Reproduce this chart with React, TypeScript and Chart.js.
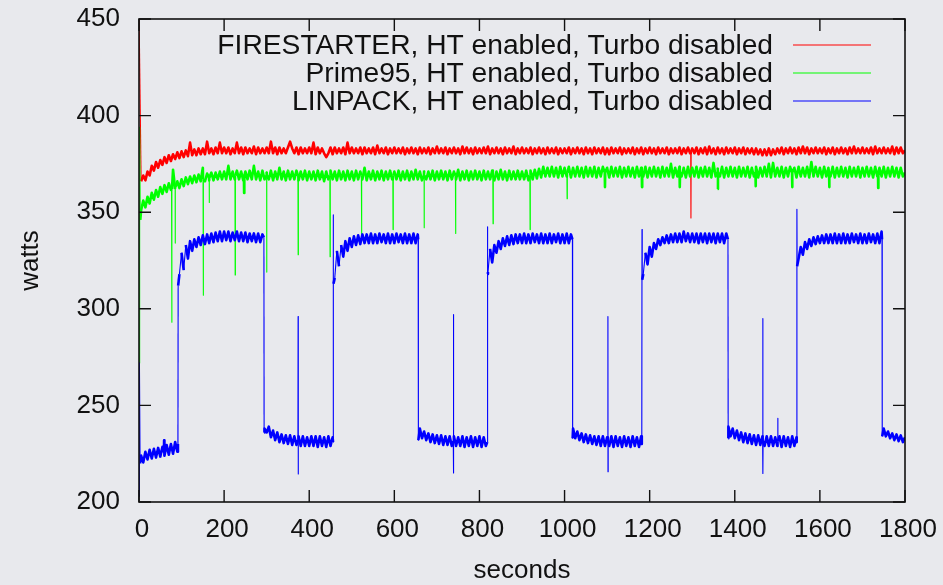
import React, { useEffect, useRef } from "react";
import { Chart, registerables } from "chart.js";

Chart.register(...registerables);

// ---- data ---------------------------------------------------------------
// Power samples every 5 seconds, 0 .. 1800 s (361 samples per series)
const SECONDS: number[] = Array.from({ length: 361 }, (_, i) => i * 5);

const X_TICKS = [0, 200, 400, 600, 800, 1000, 1200, 1400, 1600, 1800];
const Y_TICKS = [200, 250, 300, 350, 400, 450];

const SERIES_LABELS = [
  "FIRESTARTER, HT enabled, Turbo disabled",
  "Prime95, HT enabled, Turbo disabled",
  "LINPACK, HT enabled, Turbo disabled",
];

const FIRESTARTER_WATTS = [
  455, 366, 369, 366.5, 371, 369, 374, 371.5, 376, 373, 377, 374.5, 378.5, 375.5, 379.5, 376.5, 380, 377.5, 381, 378,
  381.5, 378.5, 382, 379, 386, 379.5, 382.5, 379.5, 383, 380, 383, 380, 386.5, 380.5, 383, 380, 383.5, 380.5, 386, 380.5,
  383.5, 380.5, 383.5, 380, 383, 380.5, 386, 380.5, 383.5, 380, 383.5, 380.5, 383, 380.5, 384, 380, 383.5, 380.5, 383, 380.5,
  383.5, 380.5, 386.5, 380.5, 383.5, 380, 383.5, 380.5, 383, 380.5, 383.5, 386.5, 383, 380.5, 383.5, 380, 383.5, 380.5, 383, 380.5,
  383.5, 380.5, 386, 380, 383.5, 380.5, 383, 380.5, 378.5, 380.5, 383.5, 380, 383.5, 380.5, 383, 380.5, 383.5, 380, 386, 380.5,
  383.5, 380.5, 383, 380.5, 383.5, 380, 383.5, 380.5, 383, 380.5, 383.5, 380, 384.5, 380.5, 383, 380.5, 383.5, 380, 383, 380.5,
  383.5, 380.5, 383, 380.5, 383.5, 380, 383, 380.5, 383.5, 380.5, 383, 380, 383.5, 380.5, 383, 380.5, 383.5, 380, 383, 380.5,
  384, 380.5, 383, 380.5, 383.5, 380, 383, 380.5, 383.5, 380.5, 383, 380, 384, 380.5, 383.5, 380.5, 383, 380, 383.5, 380.5,
  383, 380.5, 383.5, 380.5, 384, 380, 383, 380.5, 383.5, 380.5, 383, 380, 383.5, 380.5, 383, 380.5, 384, 380, 383, 380.5,
  383.5, 380.5, 383, 380.5, 383.5, 380, 383, 380.5, 383.5, 380.5, 383, 380, 383.5, 380.5, 383, 380.5, 383.5, 380, 383, 380.5,
  383, 380.5, 383.5, 380, 383, 380.5, 383.5, 380.5, 383, 380, 383.5, 380.5, 383, 380, 383.5, 380.5, 383, 380.5, 383.5, 380,
  383, 380, 383.5, 380.5, 383, 380.5, 383.5, 380, 383, 380.5, 383, 380.5, 383.5, 380, 383, 380.5, 383.5, 380, 383, 380.5,
  383.5, 380.5, 383, 380, 383.5, 380.5, 383, 380.5, 383.5, 380, 383, 380.5, 383, 380.5, 383.5, 380, 383, 380.5, 383.5, 380.5,
  383, 380.5, 383.5, 380, 383, 380.5, 383.5, 380, 384, 380.5, 383, 380, 383.5, 380.5, 383, 380, 383.5, 380.5, 383, 380.5,
  383.5, 380, 383, 380.5, 383.5, 380, 383, 380.5, 383, 380, 383, 380, 382.5, 379.5, 382.5, 379.5, 383, 379.5, 382.5, 380,
  383, 380.5, 383.5, 380, 383, 380.5, 383.5, 380.5, 383, 380, 383.5, 380.5, 384, 380.5, 383.5, 380, 383, 380.5, 383.5, 380.5,
  383, 380.5, 383.5, 380, 383, 380.5, 383.5, 380, 383, 380.5, 383.5, 380.5, 383, 380, 383.5, 380.5, 384, 380.5, 383, 380.5,
  383.5, 380.5, 383, 380.5, 383.5, 380, 384, 380.5, 383, 380.5, 383.5, 380.5, 383, 380.5, 384, 380, 383.5, 380.5, 383.5, 380.5,
  382,
];

const PRIME95_WATTS = [
  272, 351, 356, 352.5, 358, 354.5, 360, 356.5, 361.5, 358, 363, 359.5, 364, 360.5, 365, 361.5, 372, 362, 366, 362.5,
  367, 363.5, 368, 364.5, 368.5, 365, 369, 365.5, 369.5, 366, 373, 366, 370, 366.5, 370.5, 366.5, 370.5, 367, 371, 367,
  371, 367, 374, 367, 371, 367, 371.5, 367, 371, 366.5, 371, 367, 371.5, 367, 374, 367, 371, 366.5, 371.5, 367,
  371, 367, 371.5, 366.5, 371, 367, 373, 367, 371, 366.5, 371.5, 367, 371, 367, 371.5, 366.5, 371, 367, 371.5, 366.5,
  371, 367, 371, 366.5, 371.5, 367, 371, 366, 371, 367, 371.5, 367, 371, 366.5, 371.5, 367, 371, 366.5, 371.5, 367,
  371, 366.5, 371.5, 367, 371, 367, 373, 366.5, 371, 367, 371.5, 366.5, 371, 367, 371.5, 366.5, 371, 367, 371.5, 367,
  371, 367, 371.5, 366.5, 371, 367, 371.5, 366.5, 371, 367, 372, 367, 371, 366.5, 371.5, 367, 371, 367, 371.5, 366.5,
  371, 367, 371.5, 367, 371, 366.5, 371.5, 367, 371, 367, 372, 366.5, 371, 367, 371.5, 366.5, 371, 367, 371.5, 367,
  371, 366.5, 371.5, 367, 371, 367, 371.5, 366.5, 371, 367, 372, 367, 371, 366.5, 371.5, 367, 371, 367, 371.5, 367,
  371, 367, 371.5, 366.5, 371.5, 367, 372, 367.5, 372.5, 368, 373.5, 368.5, 373, 368.5, 373.5, 368.5, 373, 368, 373.5, 368.5,
  373, 368.5, 373.5, 368, 373, 368.5, 373.5, 368.5, 373, 368, 373.5, 368.5, 373, 368.5, 373.5, 368, 373, 368.5, 373.5, 368.5,
  373, 368, 373.5, 368.5, 373, 368.5, 373.5, 368, 373, 368.5, 373.5, 368.5, 373, 368, 373.5, 368.5, 373, 368.5, 373.5, 368,
  373, 368.5, 373.5, 368.5, 373, 368, 373.5, 368.5, 373, 368.5, 375, 368, 373, 368.5, 373.5, 368.5, 373, 368, 373.5, 368.5,
  373, 368.5, 373.5, 368, 373, 368.5, 373.5, 368.5, 373, 368, 375.5, 368.5, 373, 368.5, 373.5, 368, 373, 368.5, 373.5, 368.5,
  373, 368, 373.5, 368.5, 373, 368.5, 373.5, 368, 373, 368.5, 373.5, 368, 373, 368.5, 373.5, 368.5, 375, 368, 375.5, 368.5,
  373, 368.5, 373.5, 368, 373, 368.5, 373.5, 368.5, 373, 368, 373.5, 368.5, 373, 368.5, 373.5, 368, 376, 368.5, 373.5, 368.5,
  373, 368, 373.5, 368.5, 373, 368.5, 373.5, 368, 373, 368.5, 373.5, 368.5, 373, 368, 373.5, 368.5, 373, 368.5, 373.5, 368,
  373, 368.5, 373.5, 368.5, 373, 368, 373.5, 368.5, 373, 368.5, 373.5, 368, 373, 368.5, 373.5, 368.5, 373, 368, 373, 368.5,
  370.5,
];

const LINPACK_WATTS = [
  203, 224, 220.5, 226, 222, 227, 222.5, 227.5, 223, 228, 223.5, 228.5, 224, 229.5, 224.5, 230, 225, 231, 226, 318,
  329, 320, 333, 326, 335, 330, 336, 332, 337, 333, 338, 333.5, 338.5, 334, 339, 334.5, 339.5, 335, 340, 335,
  340, 335.5, 340, 335, 339.5, 335.5, 340, 335, 339.5, 335, 339.5, 334.5, 339, 335, 339, 334.5, 339, 334.5, 338.5, 238,
  236, 239, 233.5, 237, 232, 236, 231, 235, 230.5, 234.5, 230, 234.5, 229.5, 234, 229.5, 234, 229, 234, 229, 233.5,
  229, 234, 229, 234, 228.5, 234, 229, 233.5, 228.5, 234, 229, 233.5, 316, 330, 322, 333, 327, 335, 330, 336.5,
  332, 337.5, 333, 338, 333.5, 338.5, 334, 338.5, 334, 339, 334, 338.5, 334, 339, 334.5, 338.5, 334, 339, 334, 338.5,
  334, 339, 334.5, 338.5, 334, 339, 334, 338.5, 334, 339, 334, 338.5, 238, 233, 236.5, 232, 235.5, 231, 235, 230.5,
  234.5, 230, 234.5, 229.5, 234, 229.5, 234, 229, 234, 229, 233.5, 229, 234, 228.5, 233.5, 229, 234, 228.5, 233.5, 229,
  234, 228.5, 233.5, 229, 319, 331, 324, 333, 329, 335, 331, 336.5, 332.5, 337.5, 333, 338, 333.5, 338.5, 334, 338.5,
  334, 339, 334, 338.5, 334, 339, 334.5, 338.5, 334, 339, 334, 338.5, 334, 339, 334, 338.5, 334.5, 339, 334, 338.5,
  334, 339, 334, 338.5, 238, 233, 236.5, 232, 235.5, 231, 235, 230.5, 234.5, 230, 234, 229.5, 234, 229, 234, 229,
  233.5, 229, 234, 228.5, 234, 229, 233.5, 228.5, 234, 229, 233.5, 228.5, 234, 229, 233.5, 228.5, 234, 318, 329, 323,
  332, 327, 334, 331, 336, 333, 337, 334, 338, 334, 338.5, 334.5, 339, 334.5, 339, 334.5, 340, 335, 339, 334.5,
  339, 334.5, 339, 334, 339, 334.5, 339, 334, 339, 334.5, 339, 334, 339, 334.5, 339, 334, 339, 239, 234, 238,
  233, 237, 232, 236, 231, 235.5, 230.5, 235, 230, 234.5, 229.5, 234.5, 229.5, 234, 229, 234, 229, 234, 229, 233.5,
  229, 234, 228.5, 234, 229, 233.5, 228.5, 234, 229, 233.5, 326, 332, 328, 334.5, 331, 336, 332.5, 337, 333.5, 337.5,
  334, 338, 334, 338.5, 334, 338.5, 334, 339, 334, 338.5, 334, 339, 334, 338.5, 334, 339, 334.5, 338.5, 334, 339,
  334, 338.5, 334, 339, 334.5, 338.5, 334, 339, 334, 340, 238, 234, 236.5, 233, 235.5, 232, 235, 231.5, 234.5, 231,
  233.5,
];

// Extra (seconds, watts) samples: start-up transients and phase switches
const FIRESTARTER_EXTRA: number[][] = [];
const PRIME95_EXTRA: number[][] = [
  [1.5, 394], [3, 346],
];
const LINPACK_EXTRA: number[][] = [
  [1, 272], [2.5, 220], [91.5, 230], [92, 312], [293.5, 337], [294, 236],
  [456, 231], [456.3, 348.6], [457, 313], [656, 336], [656.5, 232],
  [818.5, 231], [818.8, 342.5], [819.5, 318], [1018.5, 336], [1019, 233],
  [1181.5, 230], [1182, 341], [1182.5, 315], [1384, 336], [1384.5, 233],
  [1545.5, 231], [1546, 351.5], [1546.5, 322], [1746, 336], [1746.5, 234],
];

// Short glitches: [seconds, level, extreme(s)...]
const FIRESTARTER_GLITCHES: number[][] = [[1297, 381.5, 347]];
const PRIME95_GLITCHES: number[][] = [
  [77, 362, 293], [85, 363, 334], [151, 367, 307], [165, 368, 355], [226, 369, 317.5],
  [247, 369, 360], [300, 369, 319], [374, 369, 328], [449, 369, 327], [523, 369, 338],
  [597, 369, 341], [670, 369, 342], [744, 369, 339], [832, 369, 344], [919, 369, 341],
  [1006, 370.5, 357], [1095, 370.5, 363], [1182, 370.5, 363], [1271, 370.5, 363],
  [1360, 370.5, 362], [1449, 370.5, 363.5], [1535, 370.5, 363], [1622, 370.5, 363],
  [1737, 370.5, 362.5],
];
const LINPACK_GLITCHES: number[][] = [
  [59, 226, 232], [374, 232, 296, 214.5], [739, 231.5, 297, 215],
  [1102, 231.5, 296, 215.7], [1466, 231.5, 295, 214.8], [1501, 231.5, 243.3],
];

const COLORS = ["#ff0000", "#00ff00", "#0000ff"];
const BG = "#e8e9ed";
const INK = "#111111";
const FONT = "'Liberation Sans', Arial, Helvetica, sans-serif";

function buildPoints(values: number[], extras: number[][], glitches: number[][]) {
  const pts: { x: number; y: number }[] = values.map((v, i) => ({ x: SECONDS[i], y: v }));
  extras.forEach(([x, y]) => pts.push({ x, y }));
  glitches.forEach(([t, base, ...peaks]) => {
    pts.push({ x: t - 0.5, y: base });
    peaks.forEach((p, k) => pts.push({ x: t + (k - (peaks.length - 1) / 2) * 0.2, y: p }));
    pts.push({ x: t + 0.5, y: base });
  });
  pts.sort((a, b) => a.x - b.x);
  return pts;
}

const backgroundPlugin = {
  id: "bg",
  beforeDraw(chart: any) {
    const { ctx, width, height } = chart;
    ctx.save();
    ctx.fillStyle = BG;
    ctx.fillRect(0, 0, width, height);
    ctx.restore();
  },
};

const framePlugin = {
  id: "frame",
  afterDatasetsDraw(chart: any) {
    const { ctx, chartArea: a, scales } = chart;
    const TL = 12;
    ctx.save();
    ctx.strokeStyle = INK;
    ctx.lineWidth = 1.6;
    ctx.strokeRect(a.left, a.top, a.right - a.left, a.bottom - a.top);
    ctx.lineWidth = 1.4;
    ctx.beginPath();
    X_TICKS.forEach((v) => {
      const px = scales.x.getPixelForValue(v);
      ctx.moveTo(px, a.bottom);
      ctx.lineTo(px, a.bottom - TL);
      ctx.moveTo(px, a.top);
      ctx.lineTo(px, a.top + TL);
    });
    Y_TICKS.forEach((v) => {
      const py = scales.y.getPixelForValue(v);
      ctx.moveTo(a.left, py);
      ctx.lineTo(a.left + TL, py);
      ctx.moveTo(a.right, py);
      ctx.lineTo(a.right - TL, py);
    });
    ctx.stroke();
    ctx.restore();
  },
};

const keyPlugin = {
  id: "key",
  afterDraw(chart: any) {
    const { ctx } = chart;
    const textRight = 773;
    const sampleStart = 793;
    const sampleEnd = 871;
    const firstRow = 45;
    const rowGap = 28;
    ctx.save();
    ctx.font = `28.2px ${FONT}`;
    ctx.textAlign = "right";
    ctx.textBaseline = "middle";
    chart.data.datasets.forEach((ds: any, i: number) => {
      const y = firstRow + i * rowGap;
      ctx.fillStyle = INK;
      ctx.fillText(ds.label, textRight, y + 1);
      ctx.strokeStyle = ds.borderColor;
      ctx.lineWidth = 1.2;
      ctx.beginPath();
      ctx.moveTo(sampleStart, y);
      ctx.lineTo(sampleEnd, y);
      ctx.stroke();
    });
    ctx.restore();
  },
};

function zeroScalePadding(s: any) {
  s.paddingTop = 0;
  s.paddingBottom = 0;
  s.paddingLeft = 0;
  s.paddingRight = 0;
}

// steep segments (switches, glitches) are drawn hairline, the noisy band thicker
function segmentWidth(c: any) {
  return Math.abs(c.p0.parsed.y - c.p1.parsed.y) > 10 ? 1.1 : 2.6;
}

export default function App() {
  const ref = useRef<HTMLCanvasElement>(null);

  useEffect(() => {
    document.body.style.margin = "0";
    document.body.style.background = BG;
    Chart.defaults.font.family = FONT;
    const seriesValues = [FIRESTARTER_WATTS, PRIME95_WATTS, LINPACK_WATTS];
    const seriesExtras = [FIRESTARTER_EXTRA, PRIME95_EXTRA, LINPACK_EXTRA];
    const seriesGlitches = [FIRESTARTER_GLITCHES, PRIME95_GLITCHES, LINPACK_GLITCHES];

    const chart = new Chart(ref.current as HTMLCanvasElement, {
      type: "line",
      data: {
        datasets: SERIES_LABELS.map((label, i) => ({
          label,
          data: buildPoints(seriesValues[i], seriesExtras[i], seriesGlitches[i]),
          borderColor: COLORS[i],
          backgroundColor: COLORS[i],
          borderWidth: 2.6,
          borderJoinStyle: "round",
          segment: { borderWidth: segmentWidth },
          pointRadius: 0,
          tension: 0,
          fill: false,
          order: 3 - i,
        })),
      },
      options: {
        animation: false,
        responsive: false,
        devicePixelRatio: 1,
        events: [],
        layout: { padding: { top: 19, right: 38, left: 0, bottom: 0 } },
        plugins: { legend: { display: false }, tooltip: { enabled: false } },
        scales: {
          x: {
            type: "linear",
            min: 0,
            max: 1800,
            grid: { display: false, drawTicks: false },
            border: { display: false },
            afterBuildTicks: (s: any) => {
              s.ticks = X_TICKS.map((v) => ({ value: v }));
            },
            afterFit: (s: any) => {
              s.height = 83;
              zeroScalePadding(s);
            },
            ticks: {
              autoSkip: false,
              maxRotation: 0,
              padding: 15,
              labelOffset: 3,
              color: INK,
              font: { size: 26, lineHeight: 1 },
              callback: (v: any) => String(v),
            },
            title: {
              display: true,
              text: "seconds",
              color: INK,
              font: { size: 26, lineHeight: 1 },
              padding: { top: 0, bottom: 1 },
            },
          },
          y: {
            type: "linear",
            min: 200,
            max: 450,
            grid: { display: false, drawTicks: false },
            border: { display: false },
            afterBuildTicks: (s: any) => {
              s.ticks = Y_TICKS.map((v) => ({ value: v }));
            },
            afterFit: (s: any) => {
              s.width = 139;
              zeroScalePadding(s);
            },
            ticks: {
              padding: 19,
              color: INK,
              font: { size: 26, lineHeight: 1 },
              callback: (v: any) => String(v),
            },
            title: {
              display: true,
              text: "watts",
              color: INK,
              font: { size: 26, lineHeight: 1 },
              padding: { top: 18, bottom: 0 },
            },
          },
        },
      } as any,
      plugins: [backgroundPlugin, framePlugin, keyPlugin],
    });
    return () => chart.destroy();
  }, []);

  return (
    <canvas
      ref={ref}
      width={943}
      height={585}
      style={{ display: "block", width: 943, height: 585 }}
    />
  );
}
